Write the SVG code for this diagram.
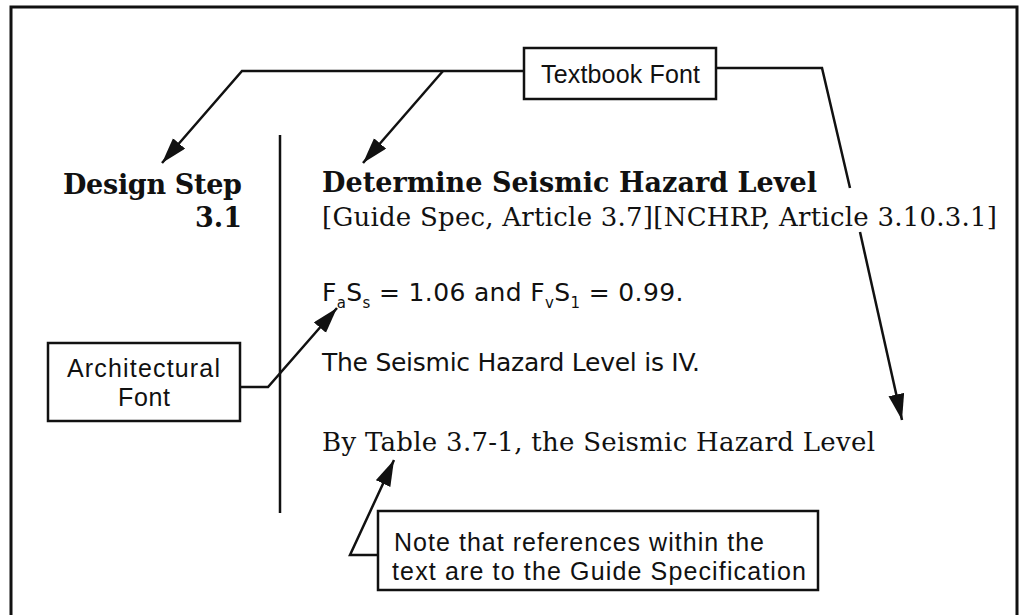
<svg xmlns="http://www.w3.org/2000/svg" width="1021" height="615" viewBox="0 0 1021 615">
<defs>
<style>
.frame{fill:none;stroke:#111;stroke-width:3}
.box{fill:#fff;stroke:#111;stroke-width:2.5}
.conn{fill:none;stroke:#111;stroke-width:2.5;stroke-linejoin:miter}
.tb{font-family:"DejaVu Serif","Liberation Serif",serif;fill:#111}
.bold{font-weight:bold;font-size:27px}
.reg{font-size:26px}
.ar{font-family:"DejaVu Sans","Liberation Sans",sans-serif;font-size:25px;fill:#111}
.lab{font-family:"Liberation Sans","DejaVu Sans",sans-serif;font-size:25px;fill:#111}
</style>
<marker id="ah" markerUnits="userSpaceOnUse" markerWidth="28" markerHeight="18" refX="26" refY="8" orient="auto" viewBox="0 0 28 18">
<path d="M0,0 L26,8 L0,16 Z" fill="#111"/>
</marker>
</defs>
<rect width="1021" height="615" fill="#fff"/>
<path class="frame" d="M11,620 V7 H1017 V620"/>
<g id="divider"><line x1="280" y1="135" x2="280" y2="513" stroke="#111" stroke-width="2.5"/></g>
<g id="connectors">
<path class="conn" d="M524,71 H242 L162,163" marker-end="url(#ah)"/>
<path class="conn" d="M443,71 L363,163" marker-end="url(#ah)"/>
<path class="conn" d="M716,68 H822 L850,188"/>
<path class="conn" d="M860,232 L902,420" marker-end="url(#ah)"/>
<path class="conn" d="M240,387 H268 L337,308" marker-end="url(#ah)"/>
<path class="conn" d="M378,555 H350 L394,460" marker-end="url(#ah)"/>
</g>
<g id="textbook-font">
<rect class="box" x="524" y="48" width="192" height="51"/>
<text class="lab" x="541" y="83" textLength="159">Textbook Font</text>
</g>
<g id="architectural-font">
<rect class="box" x="48" y="343" width="192" height="78"/>
<text class="lab" x="67" y="377" textLength="153">Architectural</text>
<text class="lab" x="118" y="406" textLength="52">Font</text>
</g>
<g id="note">
<rect class="box" x="378" y="511" width="440" height="79"/>
<text class="lab" x="394" y="551" textLength="370">Note that references within the</text>
<text class="lab" x="392" y="580" textLength="414">text are to the Guide Specification</text>
</g>
<g id="design-step">
<text class="tb bold" x="242" y="194" text-anchor="end" textLength="179">Design Step</text>
<text class="tb bold" x="242" y="227" text-anchor="end">3.1</text>
</g>
<g id="content">
<text class="tb bold" x="322" y="192" textLength="495">Determine Seismic Hazard Level</text>
<text class="tb reg" x="322" y="226" textLength="675">[Guide Spec, Article 3.7][NCHRP, Article 3.10.3.1]</text>
<text class="ar" x="322" y="301" letter-spacing="0.35">F<tspan font-size="15" dy="7">a</tspan><tspan dy="-7">S</tspan><tspan font-size="15" dy="7">s</tspan><tspan dy="-7"> = 1.06 and F</tspan><tspan font-size="15" dy="7">v</tspan><tspan dy="-7">S</tspan><tspan font-size="15" dy="7">1</tspan><tspan dy="-7"> = 0.99.</tspan></text>
<text class="ar" x="322" y="371" textLength="378">The Seismic Hazard Level is IV.</text>
<text class="tb reg" x="322" y="451" textLength="553">By Table 3.7-1, the Seismic Hazard Level</text>
</g>
</svg>
